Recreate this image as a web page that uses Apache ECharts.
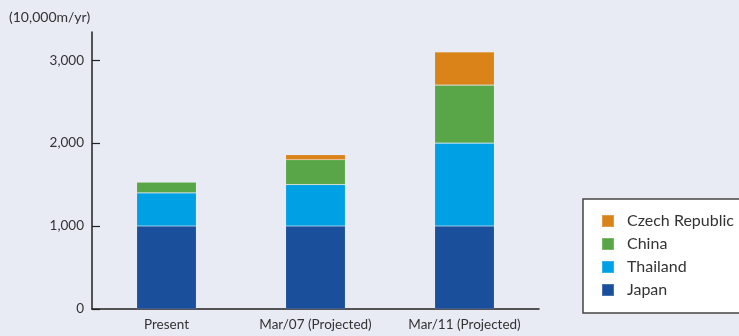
<!DOCTYPE html>
<html>
<head>
<meta charset="utf-8">
<script src="https://cdn.jsdelivr.net/npm/echarts@6/dist/echarts.min.js"></script>
<style>
  html, body { margin: 0; padding: 0; background: #e8eaf4; }
  #chart { width: 739px; height: 336px; }
</style>
</head>
<body>
<div id="chart"></div>
<script>
// Production capacity by site (unit: 10,000 m per year)
const categories = ['Present', 'Mar/07 (Projected)', 'Mar/11 (Projected)'];
const japan = [1000, 1000, 1000];
const thailand = [400, 500, 1000];
const china = [130, 300, 700];
const czech = [null, 60, 400];
const yTicks = [0, 1000, 2000, 3000];
const unitLabel = '(10,000m/yr)';

const colors = {
  japan: '#1a4f9c',
  thailand: '#00a1e4',
  china: '#58a647',
  czech: '#d98319'
};

const font = 'Lato, "Noto Sans", sans-serif';
const textColor = '#333333';

function barSeries(name, data, color) {
  return {
    name: name,
    type: 'bar',
    stack: 'total',
    data: data,
    barWidth: '40%',
    itemStyle: { color: color, borderColor: 'rgba(255,255,255,0.2)', borderWidth: 0.6 },
    emphasis: { disabled: true }
  };
}

const chart = echarts.init(document.getElementById('chart'), null, { renderer: 'canvas' });
chart.setOption({
  backgroundColor: '#e8eaf4',
  animation: false,
  textStyle: { fontFamily: font },
  graphic: [{
    type: 'text',
    left: 9,
    top: 10,
    style: { text: unitLabel, font: '14px ' + font, fill: textColor }
  }],
  grid: { left: 92, top: 32, width: 447, height: 277 },
  xAxis: {
    type: 'category',
    data: categories,
    axisLine: { lineStyle: { color: '#222', width: 1.5 } },
    axisTick: { show: false },
    axisLabel: { color: textColor, fontSize: 13.5, margin: 9, fontFamily: font }
  },
  yAxis: {
    type: 'value',
    min: 0,
    max: 3340,
    interval: 1000,
    splitLine: { show: false },
    axisLine: { show: true, lineStyle: { color: '#222', width: 1.5 } },
    axisTick: { show: true, inside: true, length: 8, lineStyle: { color: '#222', width: 1.2 }, customValues: yTicks },
    axisLabel: {
      color: textColor, fontSize: 13.5, margin: 8, fontFamily: font,
      customValues: yTicks,
      formatter: v => v.toLocaleString('en-US')
    }
  },
  legend: {
    orient: 'vertical',
    left: 583,
    top: 199,
    padding: [14, 60, 15, 18],
    backgroundColor: '#ffffff',
    borderColor: '#444',
    borderWidth: 1.5,
    borderRadius: 0,
    itemWidth: 12,
    itemHeight: 12,
    itemGap: 7,
    icon: 'rect',
    selectedMode: false,
    data: ['Czech Republic', 'China', 'Thailand', 'Japan'],
    textStyle: { fontSize: 16, color: textColor, fontFamily: font, lineHeight: 16, padding: [0, 0, 0, 8] }
  },
  series: [
    barSeries('Japan', japan, colors.japan),
    barSeries('Thailand', thailand, colors.thailand),
    barSeries('China', china, colors.china),
    barSeries('Czech Republic', czech, colors.czech)
  ]
});
</script>
</body>
</html>
